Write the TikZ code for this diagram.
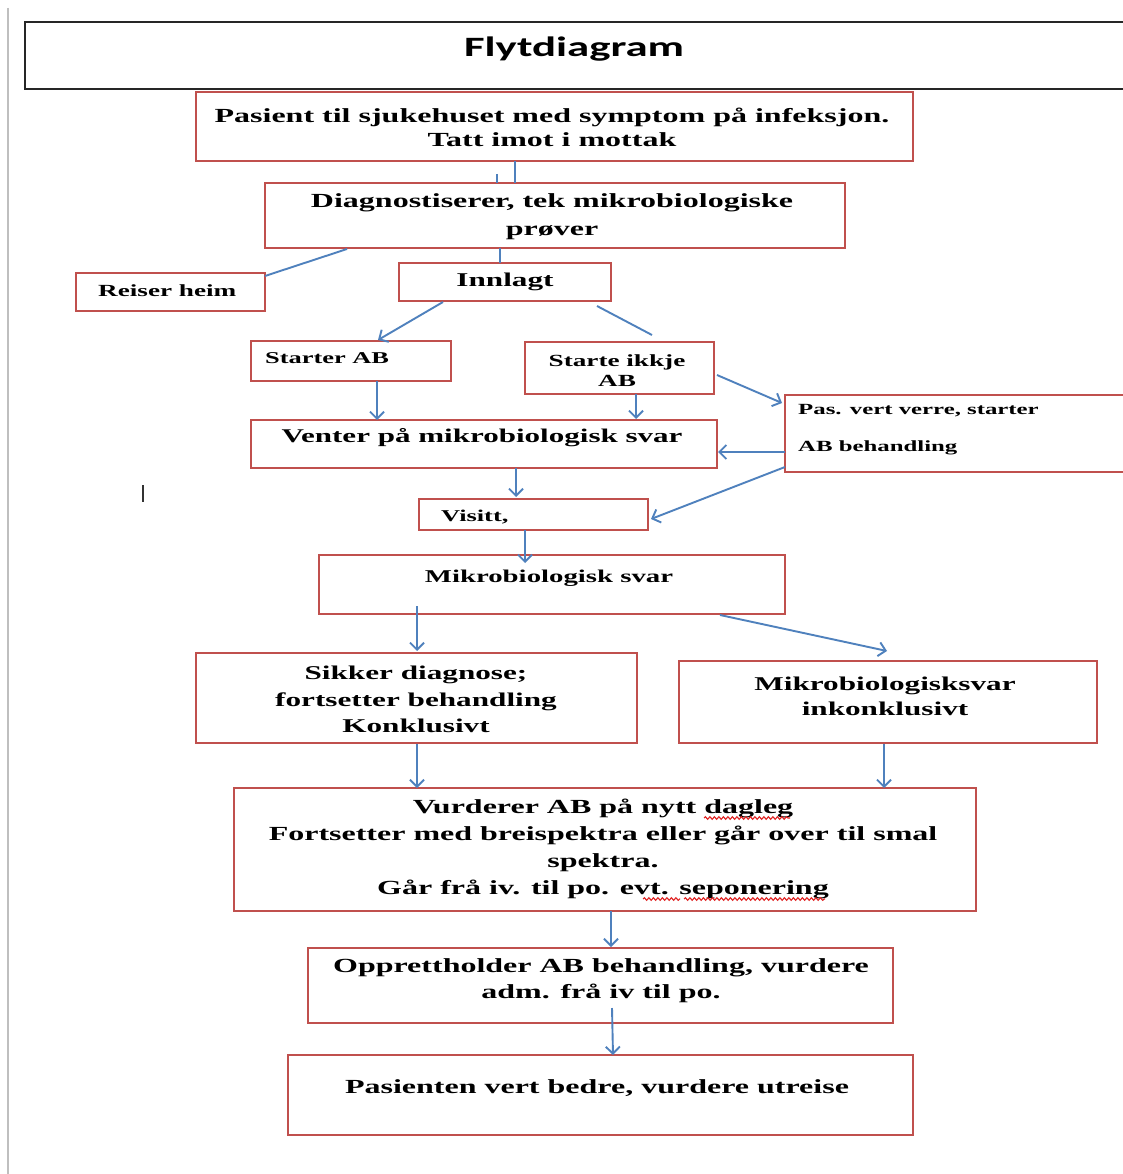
\documentclass[tikz,border=0pt]{standalone}
\usepackage{fontspec}
\setmainfont{Liberation Serif}[FakeStretch=1.6]
\newfontfamily\titlefont{Carlito}[FakeStretch=1.6]
\usetikzlibrary{arrows.meta,calc,decorations.pathmorphing}
\definecolor{boxred}{HTML}{C0504D}
\definecolor{arrblue}{HTML}{4F81BD}
\definecolor{spellred}{HTML}{E02020}
\tikzset{
  box/.style={draw=boxred, line width=2pt, anchor=north west, inner sep=0pt, outer sep=0pt},
  txt/.style={inner sep=0pt, align=center, yshift=-2pt, font=\bfseries\fontsize{20}{24}\selectfont},
  link/.style={draw=arrblue, line width=1.9pt},
  arr/.style={link, -{Straight Barb[length=7pt,width=14pt]}},
  wavy/.style={draw=spellred, line width=1.1pt, decorate, decoration={snake, amplitude=1.3pt, segment length=4.5pt}},
}
\begin{document}
\begin{tikzpicture}[x=1pt,y=-1pt]
\useasboundingbox (0,0) rectangle (1122,1174);
\fill[white] (0,0) rectangle (1122,1174);
% page edge and cursor
\draw[black!25, line width=2.5pt] (8,8) -- (8,1174);
\draw[black!80, line width=2pt] (143,485) -- (143,502);
% title
\node[draw=black!85, line width=2pt, anchor=north west, inner sep=0pt, outer sep=0pt,
      minimum width=1130pt, minimum height=67pt] (title) at (25,22) {};
\node[inner sep=0pt, font=\titlefont\bfseries\fontsize{28}{34}\selectfont] (ttitle) at (574,49) {Flytdiagram};
% boxes
\node[box, minimum width=717pt, minimum height=69pt] (b1) at (196,92) {};
\node[box, minimum width=580pt, minimum height=65pt] (b2) at (265,183) {};
\node[box, minimum width=189pt, minimum height=38pt] (reiser) at (76,273) {};
\node[box, minimum width=212pt, minimum height=38pt] (innlagt) at (399,263) {};
\node[box, minimum width=200pt, minimum height=40pt] (starter) at (251,341) {};
\node[box, minimum width=189pt, minimum height=52pt] (ikkje) at (525,342) {};
\node[box, minimum width=360pt, minimum height=77pt] (pas) at (785,395) {};
\node[box, minimum width=466pt, minimum height=48pt] (venter) at (251,420) {};
\node[box, minimum width=229pt, minimum height=31pt] (visitt) at (419,499) {};
\node[box, minimum width=466pt, minimum height=59pt] (mikro) at (319,555) {};
\node[box, minimum width=441pt, minimum height=90pt] (sikker) at (196,653) {};
\node[box, minimum width=418pt, minimum height=82pt] (inkonkl) at (679,661) {};
\node[box, minimum width=742pt, minimum height=123pt] (vurderer) at (234,788) {};
\node[box, minimum width=585pt, minimum height=75pt] (opprett) at (308,948) {};
\node[box, minimum width=625pt, minimum height=80pt] (pasienten) at (288,1055) {};
% texts
\node[txt, font=\bfseries\fontsize{20}{24}\selectfont] (tb1) at (552,125) {Pasient til sjukehuset med symptom på infeksjon.\\Tatt imot i mottak};
\node[txt, font=\bfseries\fontsize{20}{28}\selectfont] (tb2) at (552,215) {Diagnostiserer, tek mikrobiologiske\\prøver};
\node[txt, anchor=west, font=\bfseries\fontsize{17}{20}\selectfont] (treiser) at (98,289) {Reiser heim};
\node[txt, font=\bfseries\fontsize{19.5}{24}\selectfont] (tinnlagt) at (505,280) {Innlagt};
\node[txt, anchor=west, font=\bfseries\fontsize{16.5}{20}\selectfont] (tstarter) at (265,356) {Starter AB};
\node[txt, font=\bfseries\fontsize{17}{20}\selectfont] (tikkje) at (617,369) {Starte ikkje\\AB};
\node[txt, anchor=west, align=left, font=\bfseries\fontsize{15.5}{37}\selectfont] (tpas) at (798,427.5) {Pas. vert verre, starter\\AB behandling};
\node[txt, font=\bfseries\fontsize{19.4}{24}\selectfont] (tventer) at (482,436) {Venter på mikrobiologisk svar};
\node[txt, anchor=west, font=\bfseries\fontsize{16.5}{20}\selectfont] (tvisitt) at (441,515) {Visitt,};
\node[txt, font=\bfseries\fontsize{18}{22}\selectfont] (tmikro) at (549,576) {Mikrobiologisk svar};
\node[txt, font=\bfseries\fontsize{19.5}{26.5}\selectfont] (tsikker) at (416,697.5) {Sikker diagnose;\\fortsetter behandling\\Konklusivt};
\node[txt, font=\bfseries\fontsize{19.5}{25}\selectfont] (tinkonkl) at (885,694.5) {Mikrobiologisksvar\\inkonklusivt};
\node[txt, font=\bfseries\fontsize{20}{27}\selectfont] (tvurderer) at (603,846.75) {Vurderer AB på nytt dagleg\\Fortsetter med breispektra eller går over til smal\\spektra.\\Går frå iv. til po. evt. seponering};
\node[txt, font=\bfseries\fontsize{20}{26}\selectfont] (topprett) at (601,979) {Opprettholder AB behandling, vurdere\\adm. frå iv til po.};
\node[txt, font=\bfseries\fontsize{20}{24}\selectfont] (tpasienten) at (597,1086) {Pasienten vert bedre, vurdere utreise};
% spell-check marks
\draw[wavy] (704,818) -- (790,818);
\draw[wavy] (643,899) -- (680,899);
\draw[wavy] (684,899) -- (825,899);
% connectors
\coordinate (stub) at (497,174);
\coordinate (free) at (652,335);
\draw[link] ($(b1.south west)+(319,0)$) -- ($(b2.north west)+(250,0)$);
\draw[link] (stub) -- ($(b2.north west)+(232,0)$);
\draw[link] ($(b2.south west)+(235,0)$) -- ($(innlagt.north west)+(101,0)$);
\draw[link] ($(b2.south west)+(82,1)$) -- ($(reiser.north east)+(0,3)$);
\draw[arr] ($(innlagt.south west)+(44,1)$) -- ($(starter.north west)+(127,-1)$);
\draw[link] ($(innlagt.south east)+(-14,5)$) -- (free);
\draw[arr] ($(starter.south west)+(126,0)$) -- ($(venter.north west)+(126,0)$);
\draw[arr] ($(ikkje.south west)+(111,0)$) -- ($(venter.north west)+(385,-1)$);
\draw[arr] ($(ikkje.north east)+(3,33)$) -- ($(pas.north west)+(-3,8)$);
\draw[arr] ($(pas.north west)+(0,57)$) -- ($(venter.north east)+(1,32)$);
\draw[arr] ($(pas.north west)+(0,72)$) -- ($(visitt.north east)+(3,20)$);
\draw[arr] ($(venter.south west)+(265,0)$) -- ($(visitt.north west)+(97,-2)$);
\draw[arr] ($(visitt.south west)+(106,0)$) -- ($(mikro.north west)+(206,8)$);
\draw[arr] ($(mikro.south west)+(98,-8)$) -- ($(sikker.north west)+(221,-2)$);
\draw[arr] ($(mikro.south east)+(-65,1)$) -- ($(inkonkl.north west)+(208,-10)$);
\draw[arr] ($(sikker.south west)+(221,1)$) -- ($(vurderer.north west)+(183,0)$);
\draw[arr] ($(inkonkl.south west)+(205,1)$) -- ($(vurderer.north west)+(650,0)$);
\draw[arr] ($(vurderer.south west)+(377,0)$) -- ($(opprett.north west)+(303,-1)$);
\draw[arr] ($(opprett.south west)+(304,-15)$) -- ($(pasienten.north west)+(325,0)$);
\end{tikzpicture}
\end{document}
